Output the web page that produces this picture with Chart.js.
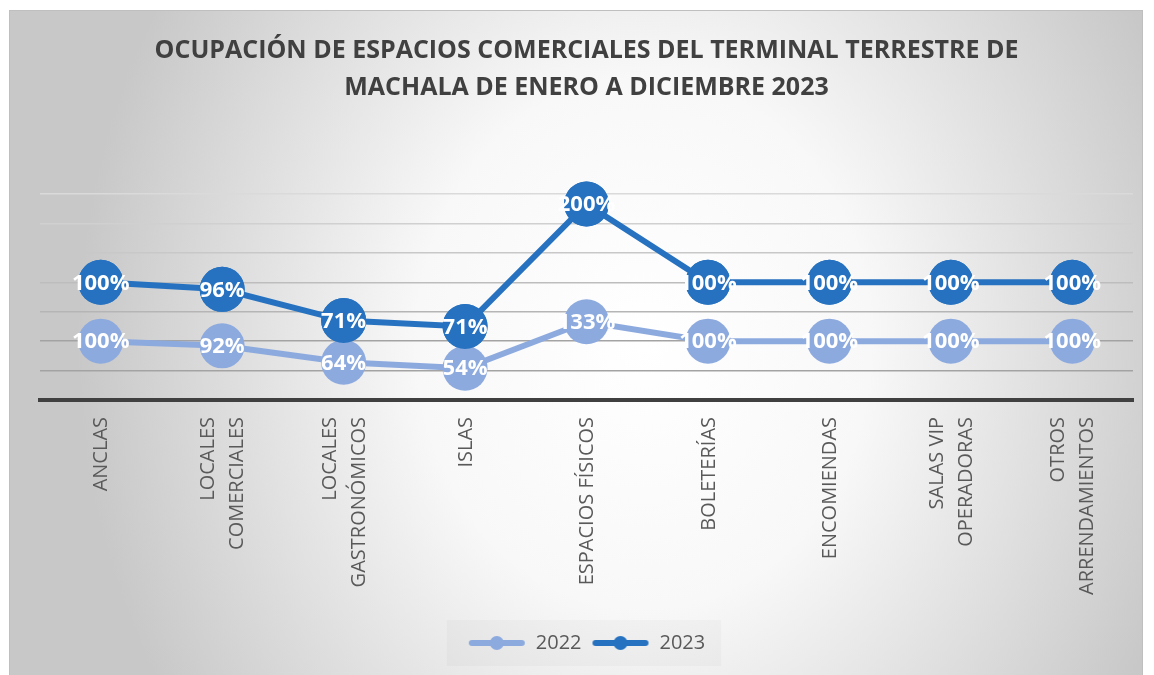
<!DOCTYPE html>
<html>
<head>
<meta charset="utf-8">
<title>Ocupación de espacios comerciales</title>
<script src="https://cdn.jsdelivr.net/npm/chart.js@4.4.1/dist/chart.umd.min.js"></script>
<style>
    html, body { margin: 0; padding: 0; background: #ffffff; }
    #box {
        position: absolute; left: 9px; top: 10px;
        width: 1132px; height: 664px;
        border: 1px solid #bfbfbf;
        background: radial-gradient(ellipse 50% 100% at 56% 50%, #ffffff 0%, #f8f8f8 40%, #c8c8c8 100%);
    }
    canvas { display: block; }
</style>
</head>
<body>
<div id="box"><canvas id="chart" width="1132" height="664"></canvas></div>
<script>
// data
var categories = [
    'ANCLAS',
    ['LOCALES', 'COMERCIALES'],
    ['LOCALES', 'GASTRONÓMICOS'],
    'ISLAS',
    'ESPACIOS FÍSICOS',
    'BOLETERÍAS',
    'ENCOMIENDAS',
    ['SALAS VIP', 'OPERADORAS'],
    ['OTROS', 'ARRENDAMIENTOS']
];
var values2022 = [100, 92, 64, 54, 133, 100, 100, 100, 100];
var values2023 = [100, 96, 71, 71, 200, 100, 100, 100, 100];
var seriesNames = ['2022', '2023'];
var titleLines = [
    'OCUPACIÓN DE ESPACIOS COMERCIALES DEL TERMINAL TERRESTRE DE',
    'MACHALA DE ENERO A DICIEMBRE 2023'
];

var col2022 = '#8DAADF';
var col2023 = '#2672C0';
var fontName = '"Open Sans", "Noto Sans", sans-serif';

// legend marker: line with a dot in the middle
function legendMarker(color) {
    var c = document.createElement('canvas');
    c.width = 58; c.height = 16;
    var g = c.getContext('2d');
    g.strokeStyle = color;
    g.lineWidth = 6;
    g.lineCap = 'round';
    g.beginPath(); g.moveTo(4, 8); g.lineTo(54, 8); g.stroke();
    g.fillStyle = color;
    g.beginPath(); g.arc(29, 8, 7, 0, Math.PI * 2); g.fill();
    return c;
}

// 2023 markers go over the 2022 ones, then white value labels on top
var valueLabels = {
    id: 'valueLabels',
    afterDatasetsDraw: function(chart) {
        var ctx = chart.ctx;
        var top = chart.getDatasetMeta(1);
        top.data.forEach(function(pt) { pt.draw(ctx, chart.chartArea); });
        ctx.save();
        ctx.font = 'bold 22px ' + fontName;
        ctx.fillStyle = '#ffffff';
        ctx.textAlign = 'center';
        ctx.textBaseline = 'middle';
        chart.data.datasets.forEach(function(ds, d) {
            var meta = chart.getDatasetMeta(d);
            meta.data.forEach(function(pt, i) {
                ctx.fillText(ds.data[i] + '%', pt.x, pt.y + 1);
            });
        });
        ctx.restore();
    }
};

// vertical category labels, multi-line ones centred on the tick
var categoryLabels = {
    id: 'categoryLabels',
    afterDraw: function(chart) {
        var ctx = chart.ctx;
        var xs = chart.scales.x;
        ctx.save();
        ctx.font = '20px ' + fontName;
        ctx.fillStyle = '#595959';
        ctx.textAlign = 'right';
        ctx.textBaseline = 'middle';
        chart.data.labels.forEach(function(lab, i) {
            var lines = Array.isArray(lab) ? lab : [lab];
            var x = xs.getPixelForValue(i);
            lines.forEach(function(line, j) {
                ctx.save();
                ctx.translate(x + 1 + (j - (lines.length - 1) / 2) * 29, xs.top + 17);
                ctx.rotate(-Math.PI / 2);
                ctx.fillText(line, 0, 0);
                ctx.restore();
            });
        });
        ctx.restore();
    }
};

// faint box behind the legend
var legendBack = {
    id: 'legendBack',
    beforeDraw: function(chart) {
        var lg = chart.legend;
        if (!lg || !lg.legendHitBoxes || !lg.legendHitBoxes.length) return;
        var hb = lg.legendHitBoxes;
        var l = hb[0].left, r = hb[hb.length - 1].left + hb[hb.length - 1].width;
        var cy = hb[0].top + hb[0].height / 2;
        var ctx = chart.ctx;
        ctx.save();
        ctx.fillStyle = 'rgba(0,0,0,0.025)';
        ctx.fillRect(l - 21, cy - 23, r - l + 37, 46);
        ctx.restore();
    }
};

var gridCols = ['rgba(0,0,0,0)', '#a3a3a3', '#a3a3a3', '#b5b5b5', '#bdbdbd', '#c8c8c8', '#d0d0d0', '#dadada'];

new Chart(document.getElementById('chart'), {
    type: 'line',
    data: {
        labels: categories,
        datasets: [{
            label: seriesNames[0],
            data: values2022,
            borderColor: col2022,
            backgroundColor: col2022,
            pointBackgroundColor: col2022,
            borderWidth: 6,
            pointRadius: 22.5,
            pointHoverRadius: 22.5,
            pointBorderWidth: 0,
            clip: false
        }, {
            label: seriesNames[1],
            data: values2023,
            borderColor: col2023,
            backgroundColor: col2023,
            pointBackgroundColor: col2023,
            borderWidth: 6,
            pointRadius: 22.5,
            pointHoverRadius: 22.5,
            pointBorderWidth: 0,
            clip: false
        }]
    },
    options: {
        responsive: false,
        animation: false,
        devicePixelRatio: 1,
        layout: { autoPadding: false, padding: { left: 30, right: 9, top: 0, bottom: 12 } },
        elements: { line: { tension: 0 } },
        scales: {
            x: {
                offset: true,
                grid: { display: false },
                ticks: { display: false },
                border: { color: '#404040', width: 4 },
                afterFit: function(scale) { scale.height = 223; }
            },
            y: {
                stacked: true,
                min: 0,
                max: 350,
                ticks: { display: false, stepSize: 50 },
                border: { display: false },
                grid: {
                    drawTicks: false,
                    lineWidth: 1.5,
                    color: function(c) { return gridCols[c.index] || '#dadada'; }
                },
                afterFit: function(scale) { scale.width = 0; }
            }
        },
        plugins: {
            title: {
                display: true,
                text: titleLines,
                color: '#404040',
                font: { family: fontName, size: 25, weight: 'bold', lineHeight: 1.48 },
                padding: { top: 21, bottom: 88 }
            },
            legend: {
                position: 'bottom',
                labels: {
                    usePointStyle: true,
                    pointStyleWidth: 58,
                    padding: 10,
                    color: '#595959',
                    font: { family: fontName, size: 20 },
                    generateLabels: function(chart) {
                        return chart.data.datasets.map(function(ds, i) {
                            return {
                                text: ds.label,
                                pointStyle: legendMarker(ds.borderColor),
                                fillStyle: ds.borderColor,
                                strokeStyle: ds.borderColor,
                                lineWidth: 0,
                                fontColor: '#595959',
                                hidden: !chart.isDatasetVisible(i),
                                datasetIndex: i
                            };
                        });
                    }
                }
            },
            tooltip: { enabled: false }
        }
    },
    plugins: [valueLabels, categoryLabels, legendBack]
});
</script>
</body>
</html>
